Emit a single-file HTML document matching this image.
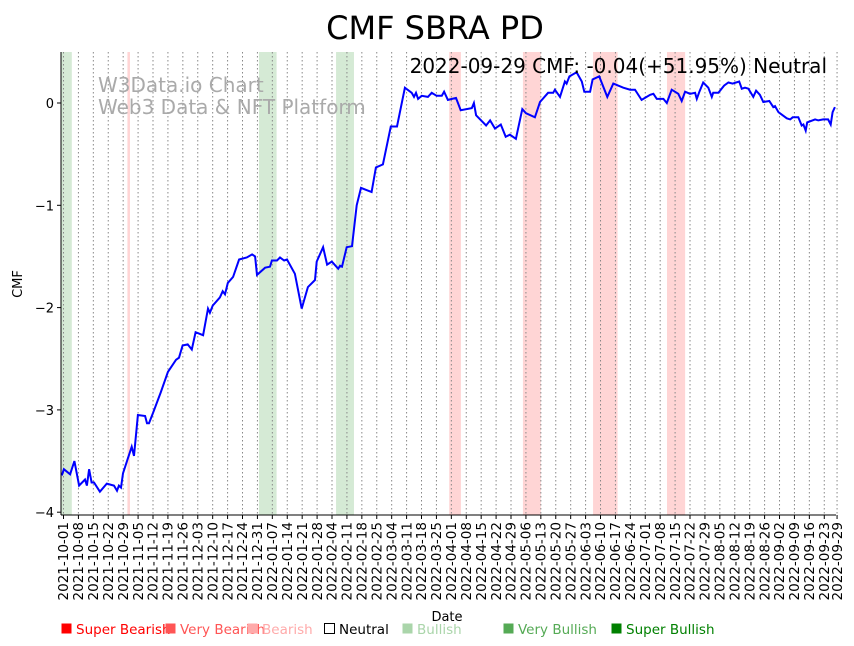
<!DOCTYPE html>
<html><head><meta charset="utf-8"><style>
body{margin:0;background:#fff;}
svg{display:block;font-family:"DejaVu Sans","Liberation Sans",sans-serif;}
</style></head><body>
<svg id="chart" width="854" height="646" viewBox="0 0 854 646" xmlns="http://www.w3.org/2000/svg">
<text x="435" y="39" font-size="32" text-anchor="middle">CMF SBRA PD</text>
<g id="bands"></g>
<g id="grid"></g>
<text x="98" y="92" font-size="20" fill="#aaa">W3Data.io Chart</text>
<text x="98" y="114" font-size="20" fill="#aaa">Web3 Data &amp; NFT Platform</text>
<path id="line" fill="none" stroke="#0000ff" stroke-width="2"/>
<text x="827" y="73" font-size="20" text-anchor="end">2022-09-29 CMF: -0.04(+51.95%) Neutral</text>
<g id="axes"></g>
<text transform="translate(22,284) rotate(-90)" font-size="13" text-anchor="middle">CMF</text>
<text x="447" y="621" font-size="13" text-anchor="middle">Date</text>
<g id="legend"></g>
</svg>
<script>
const dayOffsets=[-0.8,0.2,3.1,5.1,7.3,10.1,11.0,12.0,13.2,14.3,17.1,20.3,23.7,25.1,26.0,27.0,27.9,32.0,33.1,34.9,38.3,39.2,40.1,42.0,45.6,49.0,52.8,54.2,55.9,58.3,60.2,62.0,65.5,67.8,68.7,70.0,73.4,74.7,75.8,77.1,79.6,82.4,86.0,88.5,89.9,90.8,94.6,96.9,97.8,100.2,101.6,103.5,104.9,108.6,111.8,114.7,118.0,118.8,121.8,123.7,125.9,128.9,129.8,130.7,132.9,135.4,137.6,139.6,144.6,146.6,149.9,153.6,156.5,160.2,163.4,164.5,165.4,166.4,168.1,171.0,172.8,175.1,177.5,178.6,180.4,184.2,186.4,191.6,192.6,193.6,198.3,200.2,202.5,205.2,207.5,209.5,212.3,215.3,217.0,221.2,223.6,227.4,229.8,230.6,233.0,235.3,236.1,237.4,240.8,243.2,244.4,247.1,248.3,251.4,255.2,258.0,262.7,265.9,268.2,271.3,275.3,276.8,278.4,281.5,283.1,285.4,288.5,290.1,291.7,294.0,296.4,297.2,298.4,300.2,302.6,304.2,304.9,307.3,310.0,312.0,314.0,317.1,318.3,319.8,321.4,323.7,325.0,326.8,328.4,331.2,333.1,333.9,335.5,339.4,341.0,342.2,344.8,346.4,347.2,348.3,349.0,352.7,354.2,356.5,358.8,360.0,360.9,362.0];
const cmfValues=[-3.64,-3.58,-3.63,-3.50,-3.74,-3.68,-3.74,-3.58,-3.71,-3.71,-3.80,-3.72,-3.74,-3.79,-3.74,-3.76,-3.62,-3.36,-3.45,-3.05,-3.06,-3.13,-3.13,-3.03,-2.83,-2.63,-2.51,-2.49,-2.37,-2.36,-2.41,-2.24,-2.27,-2.01,-2.05,-1.98,-1.90,-1.84,-1.87,-1.76,-1.70,-1.53,-1.51,-1.48,-1.50,-1.68,-1.61,-1.60,-1.54,-1.54,-1.51,-1.54,-1.53,-1.67,-2.01,-1.80,-1.73,-1.55,-1.41,-1.58,-1.55,-1.62,-1.59,-1.60,-1.41,-1.40,-1.00,-0.83,-0.87,-0.63,-0.60,-0.23,-0.23,0.15,0.10,0.06,0.10,0.04,0.07,0.06,0.10,0.07,0.07,0.11,0.03,0.05,-0.07,-0.05,0.00,-0.12,-0.22,-0.17,-0.25,-0.21,-0.33,-0.31,-0.35,-0.06,-0.10,-0.14,0.01,0.10,0.10,0.13,0.06,0.21,0.19,0.26,0.30,0.21,0.11,0.11,0.23,0.26,0.06,0.19,0.15,0.13,0.13,0.03,0.08,0.09,0.04,0.04,0.00,0.13,0.09,0.02,0.11,0.09,0.10,0.04,0.11,0.20,0.15,0.06,0.10,0.10,0.17,0.20,0.19,0.21,0.14,0.15,0.14,0.06,0.12,0.08,0.01,0.02,-0.04,-0.03,-0.09,-0.15,-0.16,-0.14,-0.14,-0.22,-0.21,-0.27,-0.19,-0.16,-0.17,-0.16,-0.16,-0.21,-0.09,-0.04];
const bandStarts=[-1.3,30,91.7,127.9,181,215.6,248.5,283.2];
const bandEnds=[3.9,31.2,100,136.3,186.5,224,260,291.7];
const bandTypes=["bullish","bearish","bullish","bullish","bearish","bearish","bearish","bearish"];
const yTicks=[0,-1,-2,-3,-4];
const tickDays=[];for(let d=0;d<=357;d+=7)tickDays.push(d);tickDays.push(363);

const NS="http://www.w3.org/2000/svg";
const X0=63.5,PX=2.131,Y0=103,PY=102.3,TOP=52,BOT=515,LEFT=61,RIGHT=836;
const xs=d=>X0+d*PX, ys=v=>Y0-v*PY;
function mk(tag,attrs,parent){const e=document.createElementNS(NS,tag);for(const k in attrs)e.setAttribute(k,attrs[k]);parent.appendChild(e);return e;}
function fmt(d){const t=new Date(Date.UTC(2021,9,1)+d*86400000);return t.toISOString().slice(0,10);}

const bands=document.getElementById('bands');
bandStarts.forEach((s,i)=>{
  const r=mk('rect',{x:xs(s),y:TOP,width:xs(bandEnds[i])-xs(s),height:BOT-TOP,fill:bandTypes[i]==="bullish"?"#d5ead5":"#ffd5d5"},bands);
  
  
});
const grid=document.getElementById('grid');
const axes=document.getElementById('axes');
tickDays.forEach(d=>{
  const x=xs(d);
  const g=mk('line',{x1:x,x2:x,y1:TOP,y2:BOT,stroke:"#888","stroke-width":1,"stroke-dasharray":"1.5,2.5"},grid);
  
  
  mk('line',{x1:x,x2:x,y1:BOT,y2:BOT+4,stroke:"#000"},axes);
  const t=mk('text',{transform:`translate(${x+4.7},${BOT+7}) rotate(-90)`,"font-size":13.5,"text-anchor":"end"},axes);
  t.textContent=fmt(d);
  
  
});
yTicks.forEach(v=>{
  const y=ys(v);
  mk('line',{x1:LEFT-4,x2:LEFT,y1:y,y2:y,stroke:"#000"},axes);
  const t=mk('text',{x:LEFT-7,y:y+5,"font-size":13,"text-anchor":"end"},axes);
  t.textContent=v===0?"0":"\u2212"+Math.abs(v);
  
  
});
mk('line',{x1:LEFT,x2:LEFT,y1:TOP,y2:BOT,stroke:"#000"},axes);
mk('line',{x1:LEFT,x2:RIGHT,y1:BOT,y2:BOT,stroke:"#000"},axes);

document.getElementById('line').setAttribute('d',dayOffsets.map((d,i)=>(i?'L':'M')+xs(d).toFixed(1)+','+ys(cmfValues[i]).toFixed(1)).join(''));

const legendLabels=["Super Bearish","Very Bearish","Bearish","Neutral","Bullish","Very Bullish","Super Bullish"];
const legendColors=["#ff0000","#ff5555","#ffaaaa","none","#aad5aa","#55aa55","#008000"];
const legendX=[61,165,247,324,402,503,611];
const leg=document.getElementById('legend');
legendLabels.forEach((l,i)=>{
  const g=mk('g',{},leg);
  
  
  mk('rect',{x:legendX[i]+0.5,y:623.5,width:10,height:10,fill:legendColors[i]==="none"?"#fff":legendColors[i],stroke:legendColors[i]==="none"?"#000":"none"},g);
  const t=mk('text',{x:legendX[i]+15,y:634,"font-size":13.5,fill:legendColors[i]==="none"?"#000":legendColors[i]},g);
  t.textContent=l;
});
</script>
</body></html>
